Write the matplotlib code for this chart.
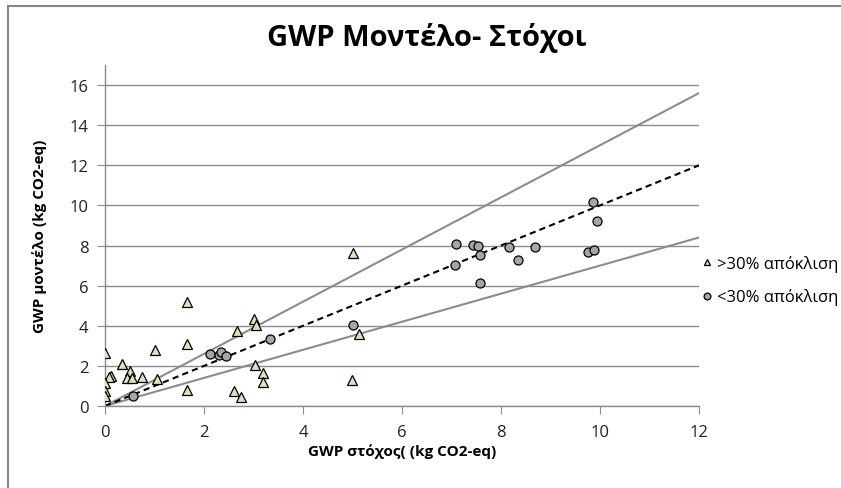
import matplotlib
matplotlib.use("Agg")
import matplotlib.pyplot as plt
from matplotlib.patches import Rectangle

plt.rcParams['font.family'] = ['Open Sans', 'DejaVu Sans']

# >30% απόκλιση (τρίγωνα)
tri_x = [1.65, 3.01, 3.06, 2.66, 1.65, 0.0, 1.01, 0.34, 3.04, 3.2, 3.2, 0.13, 0.08,
         0.5, 0.44, 0.55, 0.74, 1.06, 0.0, 0.0, 0.0, 1.65, 2.6, 2.74, 5.0, 5.14, 4.99]
tri_y = [5.18, 4.35, 4.02, 3.72, 3.07, 2.65, 2.78, 2.1, 2.05, 1.65, 1.18, 1.5, 1.45,
         1.72, 1.4, 1.4, 1.43, 1.37, 1.15, 0.77, 0.52, 0.82, 0.73, 0.43, 7.63, 3.57, 1.32]

# <30% απόκλιση (κύκλοι)
circ_x = [0.57, 2.13, 2.3, 2.35, 2.45, 3.33, 5.0, 9.86, 9.93, 7.1, 7.43, 7.53, 7.57,
          8.17, 8.68, 8.34, 9.76, 9.88, 7.08, 7.57]
circ_y = [0.52, 2.57, 2.52, 2.68, 2.47, 3.32, 4.05, 10.17, 9.23, 8.1, 8.03, 7.98, 7.52,
          7.95, 7.92, 7.3, 7.67, 7.77, 7.02, 6.12]

# γραμμές y = k*x
line_x = [0, 12]
k_up, k_mid, k_low = 1.3, 1.0, 0.7

W, H = 841, 489
fig = plt.figure(figsize=(W / 100, H / 100), dpi=100)
ax = fig.add_axes([105 / W, (H - 407) / H, (699 - 105) / W, (407 - 66) / H])

# πλαίσιο γραφήματος
fig.patches.append(Rectangle((8 / W, -0.1), 1.2, (H - 7) / H + 0.1, transform=fig.transFigure,
                             fill=False, edgecolor='#868686', linewidth=1.5))

ax.plot(line_x, [k_up * v for v in line_x], color='#8c8c8c', lw=1.5, zorder=2)
ax.plot(line_x, [k_low * v for v in line_x], color='#8c8c8c', lw=1.5, zorder=2)
ax.plot(line_x, [k_mid * v for v in line_x], color='black', lw=1.5, ls=(0, (3, 2)), zorder=2)

ax.plot(tri_x, tri_y, ls='none', marker='^', ms=6.5, mfc='#d7e4bd', mec='black', mew=0.9,
        zorder=3, label='>30% απόκλιση')
ax.plot(circ_x, circ_y, ls='none', marker='o', ms=6.5, mfc='#a6a6a6', mec='black', mew=0.9,
        zorder=3, label='<30% απόκλιση')

ax.set_xlim(0, 12)
ax.set_ylim(0, 17)
ax.set_xticks(range(0, 13, 2))
ax.set_yticks(range(0, 17, 2))
ax.grid(axis='y', color='#8c8c8c', lw=1)
ax.set_axisbelow(True)
for s in ['top', 'right']:
    ax.spines[s].set_visible(False)
for s in ['left', 'bottom']:
    ax.spines[s].set_color('#8c8c8c')
    ax.spines[s].set_linewidth(1)
ax.tick_params(direction='out', length=6, color='#8c8c8c', labelsize=12, labelcolor='#222222')
ax.tick_params(axis='x', pad=7)
ax.tick_params(axis='y', pad=6)

ax.set_xlabel('GWP στόχος( (kg CO2-eq)', fontsize=11, fontweight='bold', labelpad=2)
ax.set_ylabel('GWP μοντέλο (kg CO2-eq)', fontsize=11, fontweight='bold', labelpad=16)
fig.text(427 / W, 1 - 38 / H, 'GWP Μοντέλο- Στόχοι', fontsize=21, fontweight='bold',
         ha='center', va='center')

ax.legend(loc='center left', bbox_to_anchor=(694 / W, 1 - 281 / H), bbox_transform=fig.transFigure,
          frameon=False, fontsize=12, markerscale=0.75, handlelength=0.6, handletextpad=0.3,
          labelspacing=1.0, borderpad=0)

fig.savefig('out.png', dpi=100)
